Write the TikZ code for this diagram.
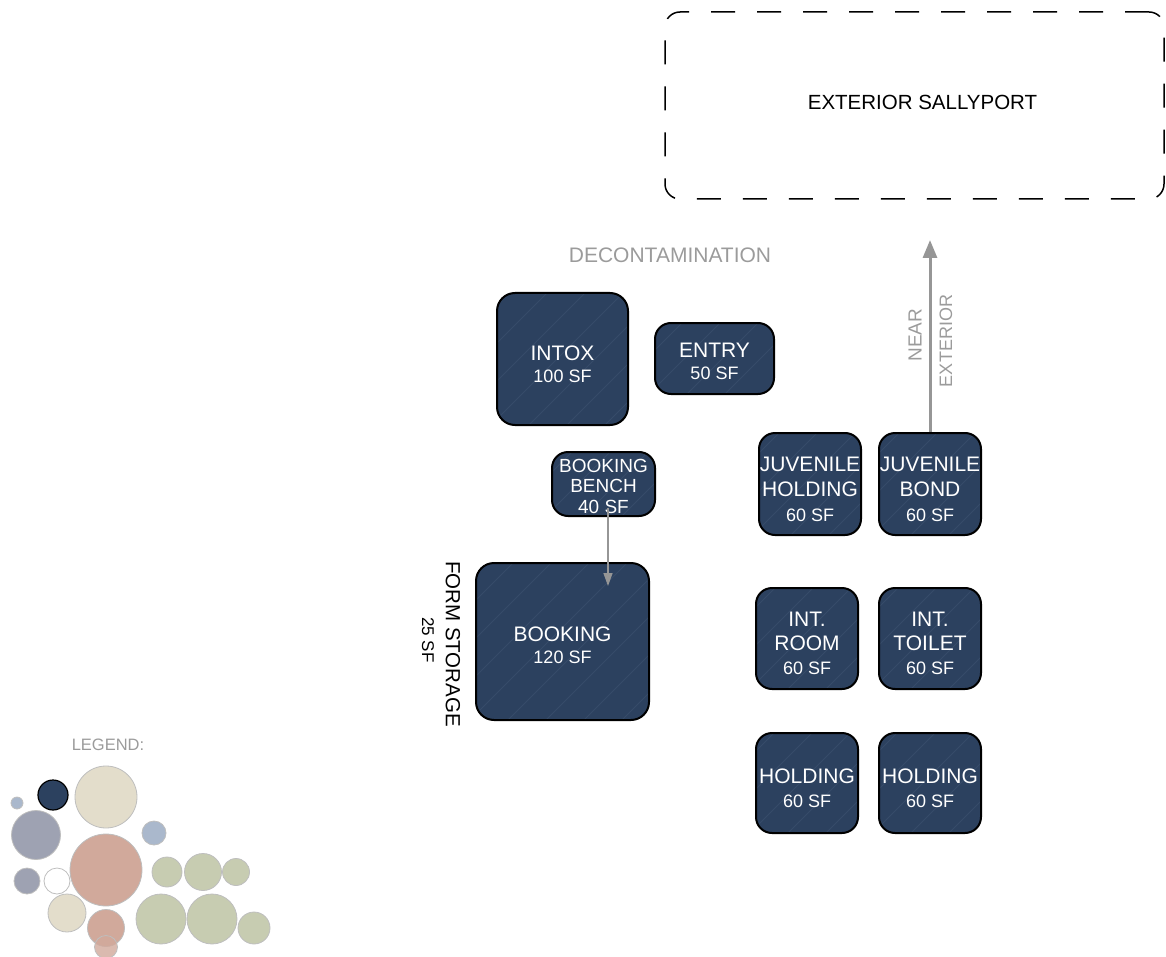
\documentclass[tikz,border=0pt]{standalone}
\usepackage{fontspec}
\setmainfont{Liberation Sans}
\usetikzlibrary{calc,arrows.meta}
\definecolor{roomblue}{RGB}{44,65,95}
\definecolor{streak}{RGB}{62,82,112}
\definecolor{labelgray}{RGB}{155,155,155}
\definecolor{arrowgray}{RGB}{150,150,150}
\definecolor{lgbeige}{RGB}{227,221,203}
\definecolor{lgpink}{RGB}{209,169,155}
\definecolor{lgslate}{RGB}{158,162,178}
\definecolor{lgblue}{RGB}{170,184,204}
\definecolor{lggreen}{RGB}{199,204,177}
\definecolor{lgedge}{RGB}{190,190,190}
\newcommand{\sfline}{\fontsize{18}{24}\selectfont}
\newcommand{\topstrut}{\rule{0pt}{25pt}}
\tikzset{
  room/.style={draw=black, line width=2pt, fill=roomblue, rounded corners=16pt,
    text=white, align=center, inner sep=0pt,
    font=\fontsize{21}{24}\selectfont,
    path picture={
      \foreach \k in {0,38,...,300}{
        \draw[streak, line width=1pt, opacity=0.6]
          ([xshift=\k pt-120pt]path picture bounding box.south west) -- ++(160pt,160pt);
      }
    }},
  graylabel/.style={text=labelgray, inner sep=0pt},
  plainlabel/.style={text=black, inner sep=0pt},
  bubble/.style={circle, draw=lgedge, line width=0.8pt, inner sep=0pt}
}
\begin{document}
\begin{tikzpicture}[x=1pt,y=-1pt]
\useasboundingbox (0,0) rectangle (1166,957);

% exterior sallyport
\node[draw=black, line width=1.5pt, dash pattern=on 24pt off 22pt, rounded corners=15pt,
      minimum width=499pt, minimum height=187pt, inner sep=0pt] (sally) at (914.5,105.5) {};
\node[plainlabel, font=\fontsize{20.5}{24}\selectfont] (sallytext) at (922.5,102) {EXTERIOR SALLYPORT};

\node[graylabel, font=\fontsize{21}{24}\selectfont] (decon) at (670,255) {DECONTAMINATION};

% rooms
\node[room, rounded corners=18pt, minimum width=131pt, minimum height=132pt] (intox) at (562.5,359)
  {\topstrut INTOX\\[-2pt]{\sfline 100 SF}};
\node[room, minimum width=119pt, minimum height=71pt] (entry) at (714.5,358.5)
  {\rule{0pt}{20pt}ENTRY\\[-2pt]{\sfline 50 SF}};
\node[room, minimum width=103pt, minimum height=64pt, font=\fontsize{19}{20.5}\selectfont] (bench) at (603.5,484)
  {\rule{0pt}{18pt}BOOKING\\BENCH\\40 SF};
\node[room, rounded corners=18pt, minimum width=173pt, minimum height=157pt] (booking) at (562.5,641.5)
  {\rule{0pt}{23pt}BOOKING\\[-2pt]{\sfline 120 SF}};

\node[room, minimum width=102pt, minimum height=102pt] (juvhold) at (810,484)
  {\topstrut JUVENILE\\[1pt]HOLDING\\[1pt]{\sfline 60 SF}};
\node[room, minimum width=102pt, minimum height=102pt] (juvbond) at (930,484)
  {\topstrut JUVENILE\\[1pt]BOND\\[1pt]{\sfline 60 SF}};
\node[room, minimum width=102pt, minimum height=101pt] (introom) at (807,638.5)
  {\topstrut INT.\\[0pt]ROOM\\[0pt]{\sfline 60 SF}};
\node[room, minimum width=102pt, minimum height=101pt] (inttoilet) at (930,638.5)
  {\topstrut INT.\\[0pt]TOILET\\[0pt]{\sfline 60 SF}};
\node[room, minimum width=102pt, minimum height=100pt] (hold1) at (807,783)
  {\topstrut HOLDING\\[0pt]{\sfline 60 SF}};
\node[room, minimum width=102pt, minimum height=100pt] (hold2) at (930,783)
  {\topstrut HOLDING\\[0pt]{\sfline 60 SF}};

% form storage
\node[plainlabel, rotate=-90, font=\fontsize{20.5}{24}\selectfont] (formst) at (453,644) {FORM STORAGE};
\node[plainlabel, rotate=-90, font=\fontsize{17}{20}\selectfont] (formsf) at (428,640) {25 SF};

% arrows
\draw[arrowgray, line width=1.5pt, -{Triangle[length=13pt,width=9pt]}]
  ($(bench.south)+(4.5,-9)$) -- ($(booking.north)+(45.5,24)$);
\coordinate (nearext) at (930,240);
\draw[arrowgray, line width=3pt, -{Triangle[length=18pt,width=14pt]}]
  (juvbond.north) -- (nearext);
\node[graylabel, rotate=90, font=\fontsize{19}{20}\selectfont] (near) at (915,335) {NEAR};
\node[graylabel, rotate=90, font=\fontsize{18}{20}\selectfont] (exter) at (946,341) {EXTERIOR};

% legend
\node[graylabel, font=\fontsize{16.5}{20}\selectfont] (legend) at (108,745) {LEGEND:};
\node[bubble, fill=lgblue, minimum size=12pt] (lg1) at (17,803) {};
\node[bubble, fill=roomblue, draw=black, line width=1.2pt, minimum size=30pt] (lg2) at (53,795) {};
\node[bubble, fill=lgbeige, minimum size=62pt] (lg3) at (106,797) {};
\node[bubble, fill=lgslate, minimum size=49pt] (lg4) at (36,835) {};
\node[bubble, fill=lgblue, minimum size=24pt] (lg5) at (154,833) {};
\node[bubble, fill=lgpink, minimum size=72pt] (lg6) at (106,870) {};
\node[bubble, fill=lgslate, minimum size=26pt] (lg7) at (27,881) {};
\node[bubble, fill=white, minimum size=26pt] (lg8) at (57,881) {};
\node[bubble, fill=lggreen, minimum size=30pt] (lg9) at (167,872) {};
\node[bubble, fill=lggreen, minimum size=37pt] (lg10) at (203,872) {};
\node[bubble, fill=lggreen, minimum size=27pt] (lg11) at (236,872) {};
\node[bubble, fill=lgbeige, minimum size=38pt] (lg12) at (67,913) {};
\node[bubble, fill=lgpink, minimum size=37pt] (lg13) at (106,928) {};
\node[bubble, fill=lggreen, minimum size=50pt] (lg14) at (161,919) {};
\node[bubble, fill=lggreen, minimum size=50pt] (lg15) at (212,919) {};
\node[bubble, fill=lggreen, minimum size=32pt] (lg16) at (254,928) {};
\node[bubble, fill=lgpink, fill opacity=0.8, minimum size=23pt] (lg17) at (106,947) {};
\end{tikzpicture}
\end{document}
